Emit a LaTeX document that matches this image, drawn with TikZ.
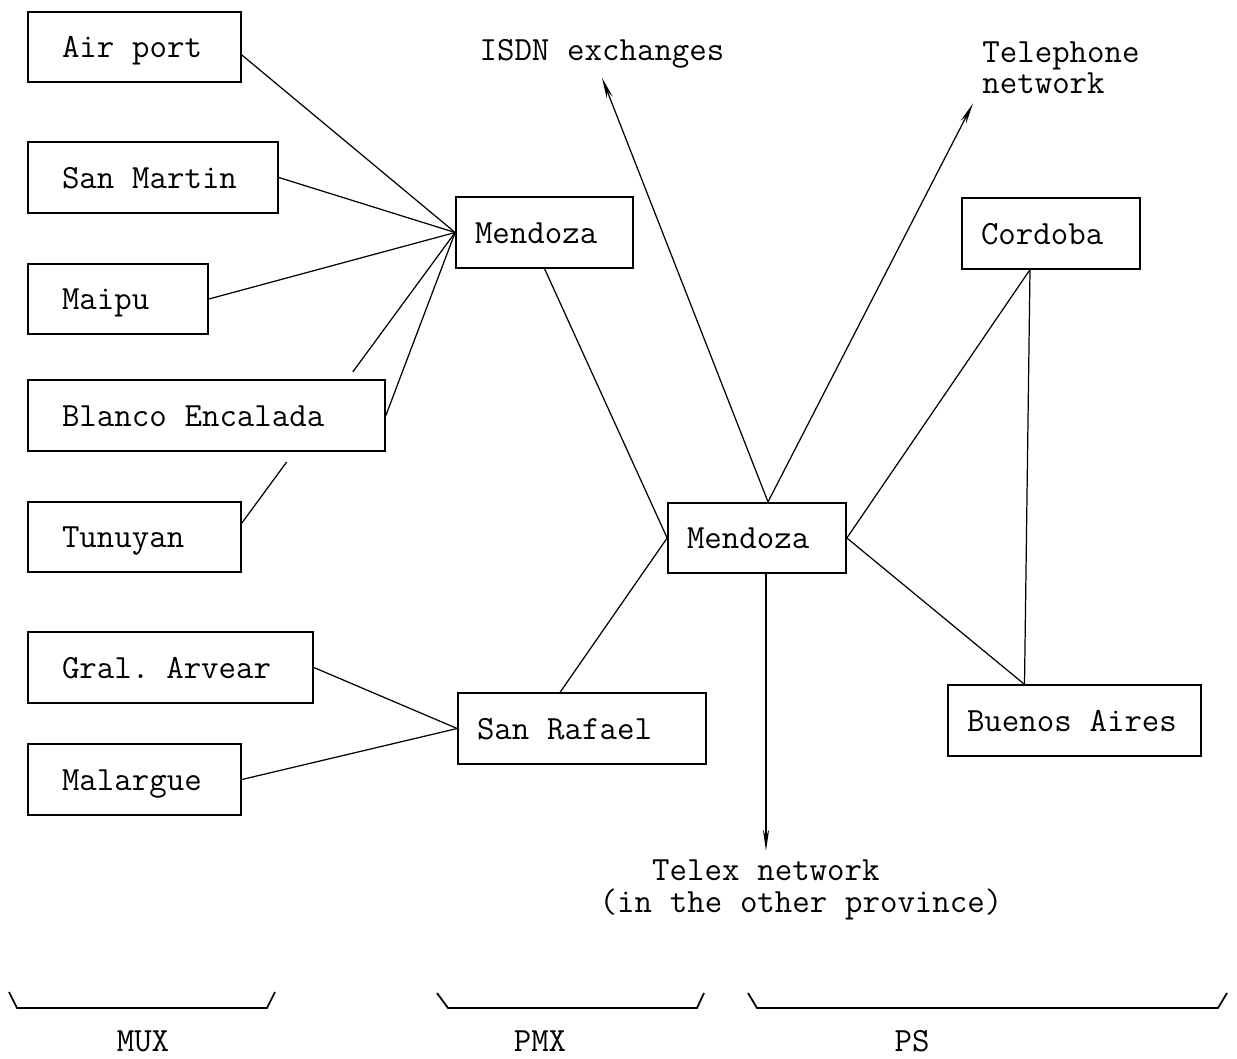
\documentclass[tikz,border=0pt]{standalone}
\usetikzlibrary{arrows.meta,calc}
\tikzset{
  tt/.style={font=\ttfamily\fontsize{19.3}{18}\selectfont,execute at begin node={\spaceskip=0.525em\relax}},
  box/.style={tt,draw,line width=1pt,align=left,minimum height=1.41cm,inner ysep=0pt,text height=12pt,text depth=0pt},
  mux/.style={box,inner xsep=0.68cm},
  sw/.style={box,inner xsep=0.38cm},
  lbl/.style={tt,inner sep=5pt,align=left},
  tip/.style={-{Stealth[length=12pt,width=3.5pt]}},
  brace/.style={line width=1pt}
}
\begin{document}
\begin{tikzpicture}[x=0.02cm,y=-0.02cm,line width=0.7pt]
\useasboundingbox (0,0) rectangle (1237,1058);

\node[mux,text width=2.90cm] (air) at (134.5,47) {Air port};
\node[mux,text width=3.64cm] (sanmartin) at (153,177.5) {San Martin};
\node[mux,text width=2.24cm] (maipu) at (118,299) {Maipu};
\node[mux,text width=5.78cm] (blanco) at (206.5,415.5) {Blanco Encalada};
\node[mux,text width=2.90cm] (tunuyan) at (134.5,537) {Tunuyan};
\node[mux,text width=4.34cm] (gral) at (170.5,667.5) {Gral. Arvear};
\node[mux,text width=2.90cm] (malargue) at (134.5,779.5) {Malargue};

\node[sw,text width=2.78cm] (mendP) at (544.5,232.5) {Mendoza};
\node[sw,text width=4.20cm] (sanR) at (582,728.5) {San Rafael};

\node[sw,text width=2.80cm] (mendS) at (757,538) {Mendoza};
\node[sw,text width=2.80cm] (cordoba) at (1051,233.5) {Cordoba};
\node[sw,text width=4.30cm] (buenos) at (1074.5,720.5) {Buenos Aires};

\node[lbl] (isdn) at (602,54) {ISDN exchanges};
\node[lbl,anchor=north west] (tel) at (973,32) {Telephone\\network};
\node[lbl] (telex) at (801,890) {\hspace*{1.55em}Telex network\\(in the other province)};

\coordinate (tun) at ($(tunuyan.east)+(0,-14)$);
\draw ($(air.east)+(0,8)$) -- (mendP.west);
\draw (sanmartin.east) -- (mendP.west);
\draw (maipu.east) -- (mendP.west);
\draw (blanco.east) -- (mendP.west);
\draw (tun) -- ($(tun)!0.21!(mendP.west)$);
\draw ($(tun)!0.52!(mendP.west)$) -- (mendP.west);
\draw (gral.east) -- (sanR.west);
\draw (malargue.east) -- (sanR.west);

\draw (mendP.south) -- (mendS.west);
\draw ($(sanR.north)+(-22,0)$) -- (mendS.west);

\coordinate (hubN) at ($(mendS.north)+(11,0)$);
\coordinate (hubS) at ($(mendS.south)+(9,0)$);
\draw[tip] (hubN) -- (isdn.south);
\draw[tip] (hubN) -- (tel.south west);
\draw[tip] (hubS) -- (hubS |- telex.north);

\draw (mendS.east) -- ($(cordoba.south)+(-21,0)$);
\draw (mendS.east) -- ($(buenos.north)+(-50,0)$);
\draw ($(cordoba.south)+(-21,0)$) -- ($(buenos.north)+(-50,0)$);

\draw[brace] (9,992) -- (17,1008) -- (267,1008) -- (275,992);
\draw[brace] (437,993) -- (448,1008) -- (697,1008) -- (704,993);
\draw[brace] (748,993) -- (757,1008) -- (1218,1008) -- (1227,993);
\node[tt,inner sep=0pt] (mux) at (143,1041) {MUX};
\node[tt,inner sep=0pt] (pmx) at (540,1041) {PMX};
\node[tt,inner sep=0pt] (ps) at (912,1041) {PS};

\end{tikzpicture}
\end{document}
